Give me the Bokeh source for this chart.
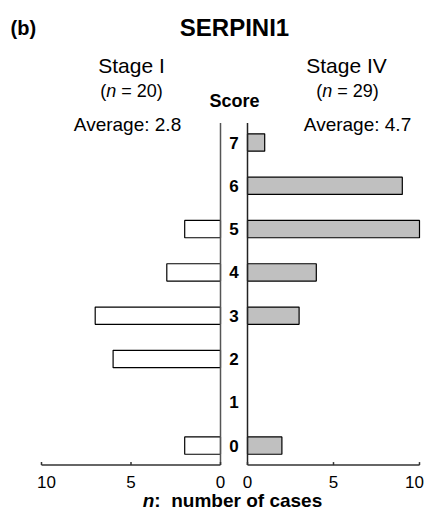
from bokeh.plotting import figure
from bokeh.models import Range1d, ColumnDataSource
from bokeh.core.properties import value
from bokeh.embed import file_html
from bokeh.resources import INLINE

# ---------------- data ----------------
scores = [0, 1, 2, 3, 4, 5, 6, 7]
stage1_counts = [2, 0, 6, 7, 3, 2, 0, 0]
stage4_counts = [2, 0, 0, 3, 4, 10, 9, 1]
x_ticks = [0, 5, 10]
x_tick_labels = ["0", "5", "10"]
panel_label = "(b)"
gene_title = "SERPINI1"
stage1_name = "Stage I"
stage4_name = "Stage IV"
stage1_n = 20
stage4_n = 29
stage1_avg = 2.8
stage4_avg = 4.7

# ---------------- geometry / style ----------------
W, H = 424, 512
SL, SR = 17.9, 17.2   # px per case, left / right panel
CL, CR = 220, 247     # canvas x of zero, left / right panel
SY = 43.3             # px per score step
Y7 = 142              # canvas y of score 7
Y0 = Y7 + 7 * SY      # canvas y of score 0
FONT = value("Liberation Sans")

p = figure(width=W, height=H, output_backend="svg", toolbar_location=None,
           x_range=Range1d(-CR / SR, (W - CR) / SR),
           y_range=Range1d((Y0 - H) / SY, Y0 / SY),
           x_axis_location=None, y_axis_location=None, min_border=0)
p.extra_x_ranges = {"left": Range1d(CL / SL, (CL - W) / SL)}
p.grid.visible = False
p.outline_line_color = None
p.background_fill_color = "white"
p.border_fill_color = "white"


def X(cx):
    return (cx - CR) / SR


def Y(cy):
    return (Y0 - cy) / SY


def txt(cx, cy, s, size, style="normal", align="center"):
    p.text(x=[X(cx)], y=[Y(cy)], text=[s], text_font=FONT,
           text_font_size=f"{size}px", text_font_style=style,
           text_align=align, text_baseline="middle", text_color="black")


REG = {' ': .278, '(': .333, ')': .333, '=': .584, 'n': .556}
BOLD = {' ': .278, ':': .333, 'n': .611, 'u': .611, 'm': .889, 'b': .611,
        'e': .556, 'r': .389, 'o': .611, 'f': .333, 'c': .556, 'a': .556, 's': .556}


def width(s, bold=False):
    tab = BOLD if bold else REG
    return sum(tab.get(ch, .556) for ch in s)


def mixed(cx, cy, pieces, size):
    # pieces: (text, style, draw?)
    ws = [width(t, "bold" in st) * size for t, st, _ in pieces]
    x = cx - sum(ws) / 2
    for (t, st, draw), w in zip(pieces, ws):
        if draw:
            txt(x, cy, t, size, st, align="left")
        x += w


LO, HI = -0.45, 7.45
TICK = 3 / SY
LAB_Y = Y(Y0 + 0.45 * SY + 17)

# ---------------- left panel (Stage I) ----------------
l_src = ColumnDataSource(dict(
    y=[s for s, c in zip(scores, stage1_counts) if c > 0],
    right=[c for c in stage1_counts if c > 0]))
p.hbar(y="y", left=0, right="right", height=0.4, source=l_src,
       fill_color="white", line_color="black", line_width=1.2,
       x_range_name="left")
p.segment(x0=[0], y0=[LO], x1=[0], y1=[HI], line_color="#555555",
          line_width=1.5, x_range_name="left")
p.segment(x0=[min(x_ticks)], y0=[LO], x1=[max(x_ticks)], y1=[LO],
          line_color="#333333", line_width=1.5, x_range_name="left")
p.segment(x0=x_ticks, y0=[LO] * 3, x1=x_ticks, y1=[LO + TICK] * 3,
          line_color="#333333", line_width=1.5, x_range_name="left")
p.text(x=x_ticks, y=[LAB_Y] * 3, text=x_tick_labels, x_offset=[0, 0, 5],
       text_font=FONT, text_font_size="17px", text_align="center",
       text_baseline="middle", text_color="black", x_range_name="left")

# ---------------- right panel (Stage IV) ----------------
r_src = ColumnDataSource(dict(
    y=[s for s, c in zip(scores, stage4_counts) if c > 0],
    right=[c for c in stage4_counts if c > 0]))
p.hbar(y="y", left=0, right="right", height=0.4, source=r_src,
       fill_color="#c0c0c0", line_color="black", line_width=1.2)
p.segment(x0=[0], y0=[LO], x1=[0], y1=[HI], line_color="#222222",
          line_width=1.5)
p.segment(x0=[min(x_ticks)], y0=[LO], x1=[max(x_ticks)], y1=[LO],
          line_color="#333333", line_width=1.5)
p.segment(x0=x_ticks, y0=[LO] * 3, x1=x_ticks, y1=[LO + TICK] * 3,
          line_color="#333333", line_width=1.5)
p.text(x=x_ticks, y=[LAB_Y] * 3, text=x_tick_labels, x_offset=[0, 0, -5],
       text_font=FONT, text_font_size="17px", text_align="center",
       text_baseline="middle", text_color="black")

# ---------------- score labels ----------------
p.text(x=[0] * len(scores), y=scores, text=[str(s) for s in scores],
       x_offset=-(CR - CL) / 2, text_font=FONT, text_font_size="17px",
       text_font_style="bold", text_align="center", text_baseline="middle",
       text_color="black")

# ---------------- titles / annotations ----------------
txt(10, 27, panel_label, 20, "bold", align="left")
txt(234, 27, gene_title, 24, "bold")
txt(131, 64.5, stage1_name, 21)
txt(346, 64.5, stage4_name, 21)
mixed(131, 90, [("(", "normal", True), ("n", "italic", True),
                (" ", "normal", False), (f"= {stage1_n})", "normal", True)], 18)
mixed(347, 90, [("(", "normal", True), ("n", "italic", True),
                (" ", "normal", False), (f"= {stage4_n})", "normal", True)], 18)
txt(234, 100, "Score", 18, "bold")
txt(127, 123.5, f"Average: {stage1_avg}", 19)
txt(357, 123.5, f"Average: {stage4_avg}", 19)
mixed(232, 500, [("n", "bold italic", True), (":", "bold", True),
                 ("  ", "bold", False), ("number of cases", "bold", True)], 19)

open("out.html", "w").write(file_html(p, INLINE))
